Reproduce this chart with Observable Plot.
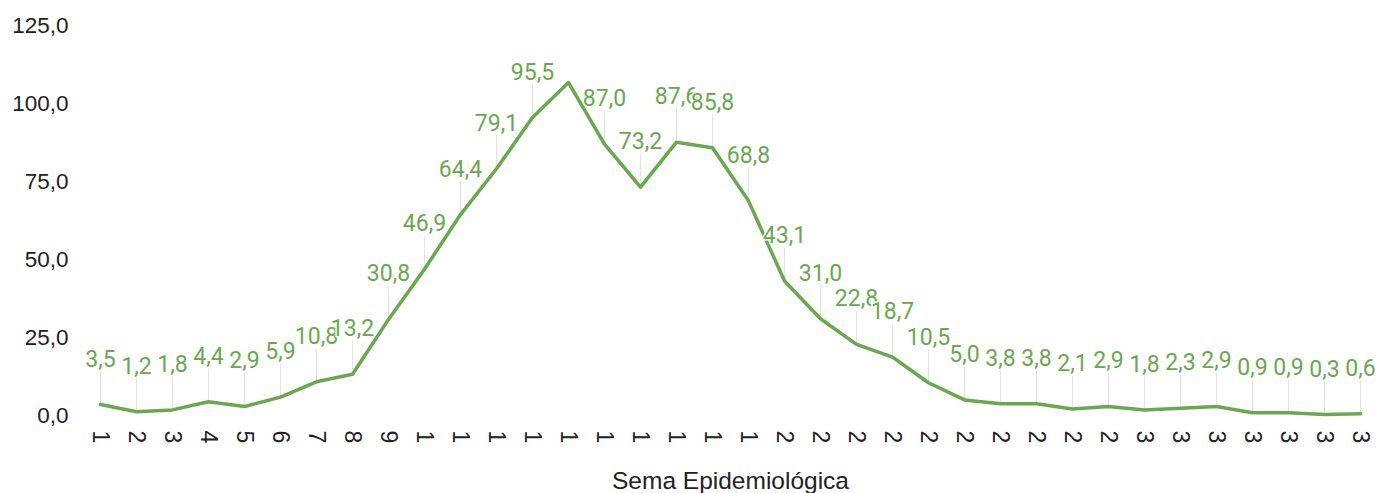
<!DOCTYPE html>
<html><head><meta charset="utf-8">
<script src="https://cdn.jsdelivr.net/npm/d3@7"></script>
<script src="https://cdn.jsdelivr.net/npm/@observablehq/plot@0.6"></script>
<style>body{margin:0;background:#fff}</style>
</head><body><div id="chart"></div>
<script>
const weeks = [1,2,3,4,5,6,7,8,9,10,11,12,13,14,15,16,17,18,19,20,21,22,23,24,25,26,27,28,29,30,31,32,33,34,35,36];
const weekTickLabels = ["1","2","3","4","5","6","7","8","9","1","1","1","1","1","1","1","1","1","1","2","2","2","2","2","2","2","2","2","2","3","3","3","3","3","3","3"];
const incidence = [3.5,1.2,1.8,4.4,2.9,5.9,10.8,13.2,30.8,46.9,64.4,79.1,95.5,106.7,87.0,73.2,87.6,85.8,68.8,43.1,31.0,22.8,18.7,10.5,5.0,3.8,3.8,2.1,2.9,1.8,2.3,2.9,0.9,0.9,0.3,0.6];
const hiddenLabelWeeks = [14];
const yTicks = [0,25,50,75,100,125];
const axisTitle = ["Sema Epidemiológica"];

const fmt = v => v.toFixed(1).replace(".", ",");
const data = weeks.map((w, i) => ({week: w, value: incidence[i]}));
const labelled = data.filter(d => !hiddenLabelWeeks.includes(d.week));
const green = "#6aa84f";
const sans = "Liberation Sans, Arial, sans-serif";

const chart = Plot.plot({
  width: 1380, height: 493,
  marginTop: 25, marginBottom: 78, marginLeft: 100, marginRight: 20,
  x: {type: "point", domain: weeks, padding: 0},
  y: {domain: [0, 125]},
  style: {background: "#fff"},
  marks: [
    Plot.axisY({ticks: yTicks, tickSize: 0, tickPadding: 32, tickFormat: fmt, fontSize: 22.5, fontFamily: sans, fill: "#222", label: null}),
    Plot.axisX({tickSize: 0, tickPadding: 15, tickRotate: 90, tickFormat: d => weekTickLabels[weeks.indexOf(d)], fontSize: 23, fontFamily: sans, fill: "#222", label: null}),
    Plot.ruleX(labelled, {x: "week", y1: "value", y2: "value", insetTop: -33, stroke: "#e3e3e3", strokeWidth: 1}),
    Plot.line(data, {x: "week", y: "value", stroke: green, strokeWidth: 3.5}),
    Plot.text(labelled, {x: "week", y: "value", text: d => fmt(d.value), dy: -38, lineAnchor: "bottom", fill: green, stroke: "white", strokeWidth: 3, fontSize: 23, fontFamily: "Roboto"}),
    Plot.text(axisTitle, {frameAnchor: "bottom", text: d => d, dy: 73, fontSize: 24.5, fontFamily: sans, fill: "#222"})
  ]
});
document.getElementById("chart").appendChild(chart);
</script>
</body></html>
